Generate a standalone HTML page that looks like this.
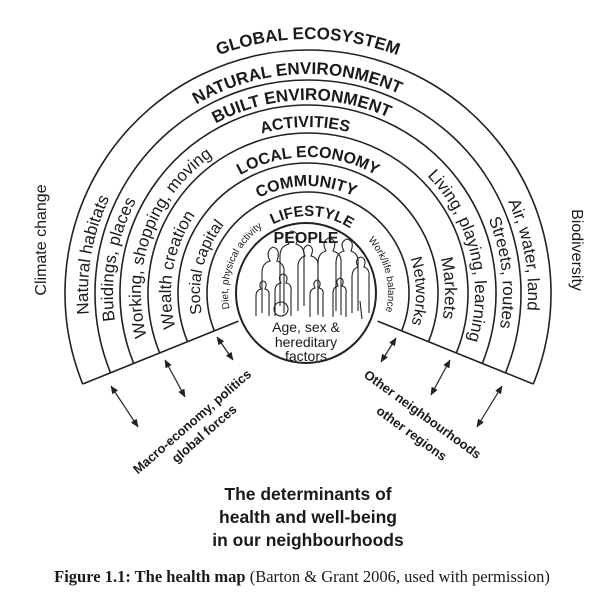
<!DOCTYPE html>
<html><head><meta charset="utf-8"><style>
html,body{margin:0;padding:0;background:#fff;}
svg{display:block;font-family:"Liberation Sans",sans-serif;}
</style></head><body>
<svg id="s" width="600" height="595" viewBox="0 0 600 595" xmlns="http://www.w3.org/2000/svg">
<defs id="d"></defs>
<g id="g" fill="none" stroke="#222" stroke-width="1.6"></g>
<g id="t" fill="#1a1a1a"></g>
<g id="people" fill="none" stroke="#222" stroke-width="1.1" transform="translate(0,1)">
<path d="M262 312 v-40 q0-10 8-12 q-5-10 3-14 q8 2 4 14 q8 3 7 12 v40"/>
<path d="M280 305 v-50 q0-10 9-12 q-5-10 3-13 q9 2 4 13 q9 3 8 12 v50"/>
<path d="M298 310 v-44 q0-9 7-11 q-4-8 3-11 q7 2 3 11 q8 2 7 11 v44"/>
<path d="M318 314 v-52 q0-10 8-12 q-5-10 3-13 q9 2 4 13 q9 3 8 12 v52"/>
<path d="M336 310 v-48 q0-10 8-12 q-5-9 3-12 q8 2 4 12 q8 3 7 12 v48"/>
<path d="M352 312 v-36 q0-8 6-10 q-4-8 3-10 q6 2 3 10 q6 2 5 10 v36"/>
<path d="M256 315 v-20 q0-6 5-7 q-3-6 2-8 q5 1 2 8 q5 1 4 7 v20"/>
<path d="M275 315 v-25 q0-7 6-8 q-4-7 2-9 q6 1 3 9 q6 1 5 8 v25"/>
<circle cx="281" cy="308" r="7"/>
<path d="M310 316 v-22 q0-6 5-7 q-3-6 2-8 q5 1 2 8 q5 1 4 7 v22"/>
<path d="M333 316 v-24 q0-6 5-7 q-3-6 2-8 q5 1 2 8 q5 1 4 7 v24"/>
<line x1="360" y1="300" x2="362" y2="318"/>
</g>
</svg>
<script>
const NS="http://www.w3.org/2000/svg";
const cx=308,cy=293;
const g=document.getElementById('g'),t=document.getElementById('t'),d=document.getElementById('d');
function el(tag,attrs,parent,txt){const e=document.createElementNS(NS,tag);for(const k in attrs)e.setAttribute(k,attrs[k]);if(txt!==undefined)e.textContent=txt;parent.appendChild(e);return e;}
function P(r,a){a=a*Math.PI/180;return [cx+r*Math.cos(a),cy-r*Math.sin(a)];}
const radii=[243,213,188,160,130,101];
radii.forEach(r=>{const s=P(r,202),e=P(r,-22);el('path',{d:`M${s[0]} ${s[1]} A${r} ${r} 0 1 1 ${e[0]} ${e[1]}`},g);});
[202,-22].forEach(a=>{const s=P(75,a),e=P(243,a);el('line',{x1:s[0],y1:s[1],x2:e[0],y2:e[1]},g);});
el('circle',{cx:306,cy:293,r:70,'stroke-width':2},g);
function arrow(x1,y1,x2,y2){el('line',{x1,y1,x2,y2,'stroke-width':1.2},g);
 [[x1,y1,x2,y2],[x2,y2,x1,y1]].forEach(([a,b,c,dd])=>{const ang=Math.atan2(b-dd,a-c);const L=8,w=0.4;
 el('path',{d:`M${a} ${b} L${a-L*Math.cos(ang-w)} ${b-L*Math.sin(ang-w)} L${a-L*Math.cos(ang+w)} ${b-L*Math.sin(ang+w)}Z`,fill:'#222','stroke-width':0.5},g);});}
arrow(111,386,138,427);arrow(165,360,185,397);arrow(217,337,233,360);
arrow(396,338,381,362);arrow(450,360,431,395);arrow(502,386,477,427);
let n=0;
function arcText(txt,r,theta,size,bold){const id='p'+(n++);const s=P(r,235),e=P(r,-55);
 el('path',{id,d:`M${s[0]} ${s[1]} A${r} ${r} 0 1 1 ${e[0]} ${e[1]}`},d);
 const tx=el('text',{'font-size':size,'font-weight':bold?'bold':'normal'},t);
 el('textPath',{href:'#'+id,startOffset:((235-theta)/290*100)+'%','text-anchor':'middle'},tx,txt);}
arcText('GLOBAL ECOSYSTEM',254,90,17,1);
arcText('NATURAL ENVIRONMENT',219,93,17,1);
arcText('BUILT ENVIRONMENT',193,92,17,1);
arcText('ACTIVITIES',166,91,16,1);
arcText('LOCAL ECONOMY',136,90,16,1);
arcText('COMMUNITY',107,91,16,1);
arcText('LIFESTYLE',77,87,15,1);
arcText('Natural habitats',220,170,17);
arcText('Buidings, places',195,170,17);
arcText('Working, shopping, moving',167,160,17);
arcText('Wealth creation',137,170,17);
arcText('Social capital',108,166,16);
arcText('Diet, physical activity',80,158,10);
arcText('Air, water, land',220,10,17);
arcText('Streets, routes',195,6,17);
arcText('Living, playing, learning',167,14,17);
arcText('Markets',137,2,17);
arcText('Networks',108,1,16);
arcText('Work/life balance',80,14,10);
function txt(s,x,y,size,extra){return el('text',Object.assign({x,y,'font-size':size,'text-anchor':'middle'},extra||{}),t,s);}
txt('PEOPLE',306,243,16,{'font-weight':'bold'});
txt('Age, sex &',306,332,14);txt('hereditary',306,347,14);txt('factors',306,361,14);
txt('Climate change',0,0,16,{transform:'translate(46,240) rotate(-90)'});
txt('Biodiversity',0,0,16,{transform:'translate(572,250) rotate(90)'});
txt('Macro-economy, politics',0,0,13,{'font-weight':'bold',transform:'translate(195,425) rotate(-41)'});
txt('global forces',0,0,13,{'font-weight':'bold',transform:'translate(207,437) rotate(-41)'});
txt('Other neighbourhoods',0,0,13,{'font-weight':'bold',transform:'translate(420,418) rotate(36)'});
txt('other regions',0,0,13,{'font-weight':'bold',transform:'translate(409,437) rotate(36)'});
txt('The determinants of',308,500,17.5,{'font-weight':'bold'});
txt('health and well-being',308,523,17.5,{'font-weight':'bold'});
txt('in our neighbourhoods',308,546,17.5,{'font-weight':'bold'});
const c=el('text',{x:302,y:582,'font-size':16.5,'text-anchor':'middle','font-family':'Liberation Serif,serif'},t);
el('tspan',{'font-weight':'bold'},c,'Figure 1.1: The health map');
el('tspan',{},c,' (Barton & Grant 2006, used with permission)');
</script>
</body></html>
